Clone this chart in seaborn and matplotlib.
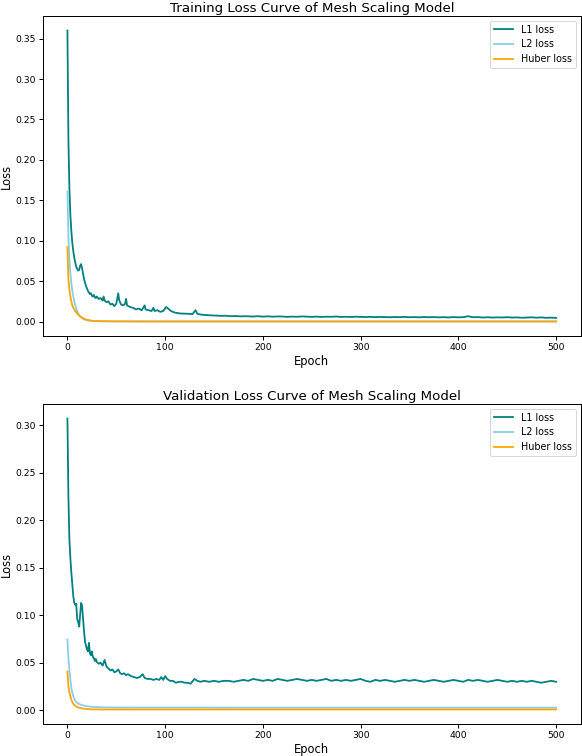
import matplotlib
matplotlib.use("Agg")
import matplotlib.pyplot as plt
import seaborn as sns

# Training L1 loss
train_l1_epochs = [0, 1, 2, 3, 4, 5, 6, 7, 8, 9, 10, 11, 12, 13, 14, 15, 16, 17, 18, 19, 20,
                   21, 22, 23, 24, 25, 26, 27, 28, 29, 30, 32, 34, 36, 37, 38, 40, 42, 44, 46, 48,
                   50, 52, 53, 55, 57, 59, 60, 61, 64, 67, 70, 73, 76, 79, 80, 83, 86, 88, 89, 92,
                   95, 98, 101, 103, 106, 110, 115, 120, 125, 128, 131, 133, 137, 142, 147, 152,
                   157, 162, 167, 172, 177, 182,
                   185, 190, 195, 200, 205, 210, 215, 220, 225, 230, 235, 240, 245, 250, 255, 260,
                   265, 270, 275, 280, 285, 290, 295, 300, 305, 310, 315, 320, 325, 330, 335, 340,
                   345, 350, 355, 360, 365, 370, 375, 380, 385, 390, 395, 400, 405, 410, 412, 415,
                   420, 425, 430, 435, 440, 445, 450, 455, 460, 465, 470, 475, 480, 485, 490, 495, 500]
train_l1 = [0.360, 0.225, 0.165, 0.132, 0.112, 0.097, 0.087, 0.079, 0.073, 0.068, 0.065, 0.063,
            0.064, 0.069, 0.071, 0.066, 0.059, 0.053, 0.048, 0.044, 0.041,
            0.038, 0.036, 0.034, 0.035, 0.032, 0.031, 0.033, 0.030, 0.029, 0.031, 0.028, 0.029,
            0.026, 0.031, 0.026, 0.024, 0.025, 0.021, 0.022, 0.019,
            0.022, 0.035, 0.026, 0.021, 0.020, 0.022, 0.028, 0.020, 0.018, 0.017, 0.015, 0.016,
            0.014, 0.020, 0.015, 0.014, 0.013, 0.017, 0.013, 0.014,
            0.012, 0.013, 0.018, 0.016, 0.013, 0.011, 0.010, 0.0098, 0.0095, 0.0092, 0.014, 0.0095,
            0.0085, 0.0080, 0.0076, 0.0074, 0.0070, 0.0072, 0.0066, 0.0068, 0.0064, 0.0066,
            0.0065, 0.0062, 0.0066, 0.0061, 0.0064, 0.0060, 0.0063, 0.0062, 0.0058, 0.0061, 0.0059,
            0.0063, 0.0060, 0.0058, 0.0061, 0.0057, 0.0060, 0.0059, 0.0062, 0.0057, 0.0059, 0.0056,
            0.0060, 0.0057, 0.0055, 0.0058, 0.0054, 0.0057, 0.0055, 0.0053, 0.0056, 0.0054, 0.0057,
            0.0053, 0.0055, 0.0052, 0.0056, 0.0053, 0.0055, 0.0052, 0.0054, 0.0051, 0.0055, 0.0052,
            0.0054, 0.0066, 0.0060, 0.0053, 0.0055, 0.0050, 0.0053, 0.0049, 0.0052, 0.0050, 0.0054,
            0.0049, 0.0051, 0.0047, 0.0050, 0.0052, 0.0048, 0.0051, 0.0046, 0.0048, 0.0045]

# Training L2 / Huber loss
train_smooth_epochs = [0, 1, 2, 3, 4, 5, 6, 7, 8, 9, 10, 11, 12, 13, 14, 15, 16, 17, 18, 19, 20,
                       22, 25, 30, 35, 40, 50, 60, 80, 100, 150, 200, 300, 400, 500]
train_l2 = [0.161, 0.105, 0.078, 0.060, 0.047, 0.038, 0.031, 0.025, 0.020, 0.016, 0.013, 0.010,
            0.008, 0.0065, 0.0052, 0.0042, 0.0034, 0.0028, 0.0023, 0.0019, 0.0016,
            0.0012, 0.0008, 0.0005, 0.0004, 0.0003, 0.0002, 0.0002, 0.00015, 0.0001, 0.0001,
            0.0001, 0.0001, 0.0001, 0.0001]
train_huber = [0.092, 0.052, 0.040, 0.031, 0.025, 0.020, 0.017, 0.015, 0.013, 0.0115, 0.010,
               0.0088, 0.0076, 0.0066, 0.0057, 0.0049, 0.0042, 0.0036, 0.0030, 0.0026, 0.0022,
               0.0016, 0.0010, 0.0006, 0.0004, 0.0003, 0.0002, 0.00015, 0.0001, 0.0001, 0.0001,
               0.0001, 0.0001, 0.0001, 0.0001]

# Validation L1 loss
val_l1_epochs = [0, 1, 2, 3, 4, 5, 6, 7, 8, 9, 10, 11, 12, 13, 14, 15, 16, 17, 18, 19, 20,
                 21, 22, 23, 24, 25, 26, 27, 28, 29, 30, 32, 34, 36, 38, 40, 42, 44, 46, 48, 50,
                 52, 54, 56, 58, 60, 62, 65, 68, 71, 74, 77, 79, 82, 85, 88, 91, 94, 96, 98, 100,
                 102, 105, 108, 111, 114, 117, 120, 123, 126, 130, 133, 136, 140, 145, 150, 155,
                 160, 165, 170, 175, 180, 185, 190, 195,
                 200, 205, 210, 215, 220, 225, 230, 235, 240, 245, 250, 255, 260, 265, 270, 275,
                 280, 285, 290, 295, 300, 305, 310, 315, 320, 325, 330, 335, 340, 345, 350, 355,
                 360, 365, 370, 375, 380, 385, 390, 395, 400, 405, 410, 415, 420, 425, 430, 435,
                 440, 445, 450, 455, 460, 465, 470, 475, 480, 485, 490, 495, 500]
val_l1 = [0.307, 0.225, 0.180, 0.160, 0.145, 0.132, 0.120, 0.113, 0.111, 0.112, 0.096, 0.093,
          0.088, 0.100, 0.113, 0.110, 0.096, 0.083, 0.072, 0.068, 0.064,
          0.062, 0.071, 0.060, 0.058, 0.062, 0.056, 0.055, 0.052, 0.054, 0.051, 0.049, 0.050,
          0.047, 0.053, 0.046, 0.044, 0.042, 0.043, 0.040, 0.041,
          0.043, 0.039, 0.038, 0.039, 0.037, 0.038, 0.036, 0.035, 0.034, 0.035, 0.038, 0.034,
          0.033, 0.033, 0.032, 0.033, 0.032, 0.035, 0.032, 0.036,
          0.033, 0.031, 0.031, 0.029, 0.030, 0.030, 0.029, 0.029, 0.028, 0.033, 0.031, 0.030,
          0.031, 0.030, 0.031, 0.030, 0.031, 0.031, 0.030, 0.031, 0.032, 0.031, 0.033, 0.032,
          0.031, 0.032, 0.031, 0.033, 0.032, 0.031, 0.032, 0.033, 0.032, 0.031, 0.032, 0.031,
          0.032, 0.033, 0.031, 0.032, 0.031, 0.032, 0.031, 0.032, 0.033, 0.031, 0.030, 0.032,
          0.031, 0.032, 0.031, 0.030, 0.031, 0.032, 0.031, 0.032, 0.031, 0.030, 0.031, 0.032,
          0.031, 0.030, 0.031, 0.032, 0.031, 0.030, 0.032, 0.031, 0.032, 0.031, 0.030, 0.031,
          0.032, 0.031, 0.030, 0.031, 0.030, 0.031, 0.030, 0.031, 0.030, 0.029, 0.030, 0.031, 0.030]

# Validation L2 / Huber loss
val_smooth_epochs = [0, 1, 2, 3, 4, 5, 6, 7, 8, 9, 10, 12, 14, 16, 18, 20, 23, 26, 30, 35, 40,
                     50, 70, 100, 200, 300, 400, 500]
val_l2 = [0.0745, 0.055, 0.043, 0.032, 0.024, 0.0186, 0.015, 0.012, 0.010, 0.0088, 0.0078,
          0.0066, 0.0058, 0.0052, 0.0047, 0.0043, 0.0039, 0.0036, 0.0034, 0.0032, 0.0031,
          0.0030, 0.0029, 0.0029, 0.0028, 0.0028, 0.0028, 0.0028]
val_huber = [0.041, 0.0255, 0.019, 0.015, 0.011, 0.0085, 0.0068, 0.0056, 0.0047, 0.0040, 0.0034,
             0.0027, 0.0022, 0.0018, 0.0015, 0.0013, 0.0011, 0.0010, 0.0010, 0.0009, 0.0009,
             0.0009, 0.0009, 0.0009, 0.0009, 0.0009, 0.0009, 0.0009]

titles = ["Training Loss Curve of Mesh Scaling Model", "Validation Loss Curve of Mesh Scaling Model"]


# Draw one panel with the three loss curves
def plot_panel(ax, l1_x, l1_y, sm_x, l2_y, hub_y, title):
    sns.lineplot(x=l1_x, y=l1_y, ax=ax, color="teal", linewidth=1.8, label="L1 loss")
    sns.lineplot(x=sm_x, y=l2_y, ax=ax, color="skyblue", linewidth=1.8, label="L2 loss")
    sns.lineplot(x=sm_x, y=hub_y, ax=ax, color="orange", linewidth=1.8, label="Huber loss")
    ax.set_title(title, fontsize=13.4, pad=4)
    ax.set_xlabel("Epoch", fontsize=11.5, labelpad=2)
    ax.set_ylabel("Loss", fontsize=11.5, labelpad=2)
    ax.tick_params(labelsize=9.3, length=4, width=1)
    for sp in ax.spines.values():
        sp.set_linewidth(1)
    ax.legend(loc="upper right", fontsize=9.6)


fig = plt.figure(figsize=(582 / 72, 756 / 72), dpi=72)
ax1 = fig.add_axes([43 / 582, 1 - 336 / 756, 537.5 / 582, 320 / 756])
ax2 = fig.add_axes([43 / 582, 1 - 724 / 756, 537.5 / 582, 320 / 756])

plot_panel(ax1, train_l1_epochs, train_l1, train_smooth_epochs, train_l2, train_huber, titles[0])
plot_panel(ax2, val_l1_epochs, val_l1, val_smooth_epochs, val_l2, val_huber, titles[1])

fig.savefig("out.png", dpi=72)
